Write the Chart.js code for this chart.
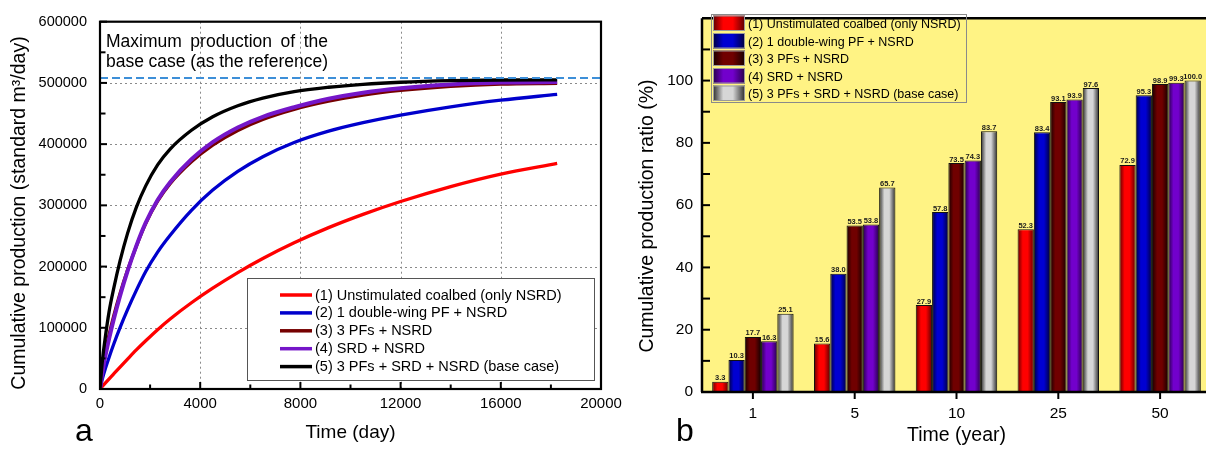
<!DOCTYPE html>
<html>
<head>
<meta charset="utf-8">
<script src="https://cdn.jsdelivr.net/npm/chart.js@4.4.1/dist/chart.umd.min.js"></script>
<style>
  html, body { margin: 0; padding: 0; background: #fff; overflow: hidden; width: 1206px; height: 449px; }
  #wrapA { position: absolute; left: 0; top: 0; width: 630px; height: 449px; }
  #wrapB { position: absolute; left: 620px; top: 0; width: 600px; height: 449px; }
  canvas { display: block; }
</style>
</head>
<body>
<div id="wrapA"><canvas id="chartA" width="630" height="449"></canvas></div>
<div id="wrapB"><canvas id="chartB" width="600" height="449"></canvas></div>
<script>
const FONT = '"Liberation Sans", Arial, Helvetica, sans-serif';

// ---- Panel (a): cumulative production (standard m3/day) over time (days) ----
const timeDays = [0, 100, 200, 365, 550, 800, 1100, 1450, 1825, 2300, 2800, 3650, 4500, 5500, 6500, 7750, 9125, 10500, 12000, 14000, 16000, 18250];
const prodUnstimulated = [0, 4700, 9300, 16700, 24900, 35900, 48900, 63800, 78800, 96900, 114400, 140900, 164700, 190200, 213200, 238800, 263600, 285300, 306300, 330700, 351100, 368600];
const prodOneWingPF = [0, 17500, 31500, 52000, 73500, 100200, 129600, 161100, 191900, 223700, 251200, 291900, 325000, 355500, 379500, 402700, 421200, 435000, 447400, 461000, 471800, 481300];
const prodThreePFs = [0, 33000, 58000, 89400, 119900, 156100, 194200, 233100, 270200, 306800, 335500, 371200, 398400, 422400, 440400, 456900, 470200, 480200, 487700, 494300, 498100, 499400];
const prodSRD = [0, 28000, 51000, 82300, 113800, 152000, 192500, 233800, 271700, 308800, 337800, 375200, 403200, 427200, 444700, 460300, 474200, 484100, 491300, 497300, 500500, 501500];
const prodBaseCase = [0, 48000, 81000, 126800, 164700, 209200, 254200, 296600, 331800, 366000, 392000, 422700, 444800, 462800, 475300, 485900, 492900, 497700, 501100, 503700, 504800, 505000];
const referenceMax = 508000;

const seriesLabels = [
  '(1) Unstimulated coalbed (only NSRD)',
  '(2) 1 double-wing PF + NSRD',
  '(3) 3 PFs + NSRD',
  '(4) SRD + NSRD',
  '(5) 3 PFs + SRD + NSRD (base case)'
];
const lineColors = ['#ff0000', '#0000cc', '#760000', '#7516c8', '#000000'];

// ---- Panel (b): cumulative production ratio (%) per year ----
const yearLabels = ['1', '5', '10', '25', '50'];
const ratioUnstimulated = [3.3, 15.6, 27.9, 52.3, 72.9];
const ratioOneWingPF = [10.3, 38.0, 57.8, 83.4, 95.3];
const ratioThreePFs = [17.7, 53.5, 73.5, 93.1, 98.9];
const ratioSRD = [16.3, 53.8, 74.3, 93.9, 99.3];
const ratioBaseCase = [25.1, 65.7, 83.7, 97.6, 100.0];

// cylinder shading for the bars: [edge, centre]
const barShades = [
  ['#5c0000', '#ff0000'],
  ['#00003c', '#0000d2'],
  ['#160000', '#700000'],
  ['#260048', '#7200cc'],
  ['#2c2c2c', '#d6d6d6']
];

function pts(values) { return timeDays.map((t, i) => ({ x: t, y: values[i] })); }

function line(ctx, x1, y1, x2, y2) {
  ctx.beginPath(); ctx.moveTo(x1, y1); ctx.lineTo(x2, y2); ctx.stroke();
}

function justify(ctx, text, x0, x1, y) {
  const words = text.split(' ');
  const widths = words.map(w => ctx.measureText(w).width);
  const total = widths.reduce((s, w) => s + w, 0);
  const gap = (x1 - x0 - total) / (words.length - 1);
  let x = x0;
  words.forEach((w, i) => { ctx.fillText(w, x, y); x += widths[i] + gap; });
}

function shadeGradient(ctx, left, width, shade) {
  const g = ctx.createLinearGradient(left, 0, left + width, 0);
  g.addColorStop(0, shade[0]);
  g.addColorStop(0.32, shade[1]);
  g.addColorStop(0.62, shade[1]);
  g.addColorStop(1, shade[0]);
  return g;
}

// ---------- Panel (a) decorations ----------
const panelA = {
  id: 'panelA',
  beforeDatasetsDraw(chart) {
    const { ctx, chartArea: a, scales: { x, y } } = chart;
    ctx.save();
    ctx.strokeStyle = '#8a8a8a';
    ctx.lineWidth = 1;
    ctx.setLineDash([2, 3]);
    for (let v = 4000; v < 20000; v += 4000) {
      const px = Math.round(x.getPixelForValue(v)) + 0.5;
      line(ctx, px, a.top, px, a.bottom);
    }
    for (let v = 100000; v < 600000; v += 100000) {
      const py = Math.round(y.getPixelForValue(v)) + 0.5;
      line(ctx, a.left, py, a.right, py);
    }
    ctx.restore();
  },
  afterDatasetsDraw(chart) {
    const { ctx, chartArea: a, scales: { x, y } } = chart;
    ctx.save();
    // frame
    ctx.strokeStyle = '#000';
    ctx.lineWidth = 2.2;
    ctx.strokeRect(a.left, a.top, a.right - a.left, a.bottom - a.top);
    // inward ticks
    ctx.lineWidth = 2;
    for (let v = 0; v <= 20000; v += 2000) {
      const px = x.getPixelForValue(v);
      line(ctx, px, a.bottom, px, a.bottom - (v % 4000 === 0 ? 7 : 4.5));
    }
    for (let v = 0; v <= 600000; v += 50000) {
      const py = y.getPixelForValue(v);
      line(ctx, a.left, py, a.left + (v % 100000 === 0 ? 7 : 5.5), py);
    }

    // reference note
    ctx.fillStyle = '#000';
    ctx.font = '17.5px ' + FONT;
    ctx.textBaseline = 'alphabetic';
    ctx.textAlign = 'left';
    justify(ctx, 'Maximum production of the', a.left + 6, 328, 47);
    justify(ctx, 'base case (as the reference)', a.left + 6, 328, 67);

    // legend
    const lx = 247, ly = 278, lw = 347, lh = 102;
    ctx.fillStyle = '#fff';
    ctx.fillRect(lx, ly, lw, lh);
    ctx.strokeStyle = '#555';
    ctx.lineWidth = 1;
    ctx.strokeRect(lx + 0.5, ly + 0.5, lw, lh);
    ctx.font = '14.5px ' + FONT;
    ctx.textBaseline = 'middle';
    seriesLabels.forEach((label, i) => {
      const cy = 295 + i * 17.9;
      ctx.strokeStyle = lineColors[i];
      ctx.lineWidth = 3.5;
      line(ctx, 280, cy, 312, cy);
      ctx.fillStyle = '#000';
      ctx.fillText(label, 315, cy + 0.5);
    });

    // axis titles and panel letter
    ctx.fillStyle = '#000';
    ctx.textAlign = 'center';
    ctx.textBaseline = 'middle';
    ctx.font = '19px ' + FONT;
    ctx.fillText('Time (day)', (a.left + a.right) / 2, 433);
    ctx.save();
    ctx.translate(20, 213);
    ctx.rotate(-Math.PI / 2);
    ctx.font = '19.5px ' + FONT;
    ctx.fillText('Cumulative production (standard m³/day)', 0, 0);
    ctx.restore();
    ctx.textAlign = 'left';
    ctx.textBaseline = 'alphabetic';
    ctx.font = '32px ' + FONT;
    ctx.fillText('a', 75, 441);
    ctx.restore();
  }
};

const lineDatasets = [prodUnstimulated, prodOneWingPF, prodThreePFs, prodSRD, prodBaseCase].map((vals, i) => ({
  label: seriesLabels[i],
  data: pts(vals),
  borderColor: lineColors[i],
  borderWidth: i === 3 ? 4 : 3.3,
  order: 5 - i
}));
lineDatasets.push({
  label: 'Maximum production of the base case',
  data: [{ x: 0, y: referenceMax }, { x: 20000, y: referenceMax }],
  borderColor: '#3d8fd8',
  borderWidth: 2.2,
  borderDash: [8, 4],
  order: 0
});

new Chart(document.getElementById('chartA'), {
  type: 'line',
  data: { datasets: lineDatasets },
  options: {
    responsive: false,
    animation: false,
    layout: { padding: { top: 15, right: 29, left: 0, bottom: 0 } },
    plugins: { legend: { display: false }, tooltip: { enabled: false } },
    elements: { point: { radius: 0 }, line: { cubicInterpolationMode: 'monotone', fill: false } },
    scales: {
      x: {
        type: 'linear', min: 0, max: 20000,
        ticks: { stepSize: 4000, padding: 6, color: '#000', font: { family: FONT, size: 15 }, maxRotation: 0, callback: v => String(v) },
        grid: { display: false, drawTicks: false },
        border: { display: false },
        afterFit(s) { s.height = 60; }
      },
      y: {
        type: 'linear', min: 0, max: 600000,
        ticks: { stepSize: 100000, padding: 13, color: '#000', font: { family: FONT, size: 14.5 }, callback: v => String(v) },
        grid: { display: false, drawTicks: false },
        border: { display: false },
        afterFit(s) { s.width = 100; }
      }
    }
  },
  plugins: [panelA]
});

// ---------- Panel (b) ----------
function barFill(i) {
  return function (c) {
    if (c.type !== 'data') return barShades[i][1];
    const xs = c.chart.scales.x;
    if (!xs || xs.right === undefined) return barShades[i][1];
    const cat = (xs.right - xs.left) / yearLabels.length;
    const bw = cat * 0.8 / 5;
    const left = xs.getPixelForValue(c.dataIndex) - cat * 0.4 + i * bw;
    return shadeGradient(c.chart.ctx, left, bw, barShades[i]);
  };
}

const panelB = {
  id: 'panelB',
  beforeDatasetsDraw(chart) {
    const { ctx, chartArea: a } = chart;
    ctx.save();
    ctx.fillStyle = '#fff384';
    ctx.fillRect(a.left, a.top, a.right - a.left, a.bottom - a.top);
    ctx.restore();
  },
  afterDatasetsDraw(chart) {
    const { ctx, chartArea: a, scales: { x, y } } = chart;
    ctx.save();
    // value labels
    ctx.fillStyle = '#1a1a1a';
    ctx.font = 'bold 7.5px ' + FONT;
    ctx.textAlign = 'center';
    ctx.textBaseline = 'alphabetic';
    chart.data.datasets.forEach((ds, di) => {
      chart.getDatasetMeta(di).data.forEach((el, i) => {
        ctx.fillText(ds.data[i].toFixed(1), el.x, el.y - 1.5);
      });
    });
    // axes
    ctx.strokeStyle = '#000';
    ctx.lineWidth = 2.5;
    line(ctx, a.left, a.top, a.right, a.top);
    line(ctx, a.left, a.top, a.left, a.bottom);
    line(ctx, a.left - 1, a.bottom, a.right, a.bottom);
    ctx.lineWidth = 2;
    for (let v = 0; v <= 110; v += 10) {
      const py = y.getPixelForValue(v);
      line(ctx, a.left, py, a.left + 8, py);
    }
    yearLabels.forEach((_, i) => {
      const px = x.getPixelForValue(i);
      line(ctx, px, a.bottom, px, a.bottom + 7);
    });

    // legend
    const names = chart.data.datasets.map(d => d.label);
    ctx.strokeStyle = '#8a8a8a';
    ctx.lineWidth = 1;
    ctx.strokeRect(711.5 - 620, 14.5, 255, 88);
    ctx.font = '12.5px ' + FONT;
    ctx.textAlign = 'left';
    ctx.textBaseline = 'middle';
    names.forEach((name, i) => {
      const top = 15.5 + i * 17.5;
      const sx = 713 - 620, sw = 32, sh = 15.5;
      ctx.fillStyle = shadeGradient(ctx, sx, sw, barShades[i]);
      ctx.fillRect(sx, top, sw, sh);
      ctx.strokeStyle = '#9a9a9a';
      ctx.strokeRect(sx + 0.5, top + 0.5, sw - 1, sh - 1);
      ctx.fillStyle = '#000';
      ctx.fillText(name, 748 - 620, top + 9.5);
    });

    // titles and panel letter
    ctx.fillStyle = '#000';
    ctx.textAlign = 'center';
    ctx.textBaseline = 'middle';
    ctx.font = '19.5px ' + FONT;
    ctx.fillText('Time (year)', (a.left + a.right) / 2, 436);
    ctx.save();
    ctx.translate(28, 216);
    ctx.rotate(-Math.PI / 2);
    ctx.fillText('Cumulative production ratio (%)', 0, 0);
    ctx.restore();
    ctx.textAlign = 'left';
    ctx.textBaseline = 'alphabetic';
    ctx.font = '32px ' + FONT;
    ctx.fillText('b', 56, 441);
    ctx.restore();
  }
};

const ratioSeries = [ratioUnstimulated, ratioOneWingPF, ratioThreePFs, ratioSRD, ratioBaseCase];

new Chart(document.getElementById('chartB'), {
  type: 'bar',
  data: {
    labels: yearLabels,
    datasets: ratioSeries.map((vals, i) => ({
      label: seriesLabels[i],
      data: vals,
      backgroundColor: barFill(i),
      borderColor: '#111',
      borderWidth: 1,
      barPercentage: 1,
      categoryPercentage: 0.8
    }))
  },
  options: {
    responsive: false,
    animation: false,
    layout: { padding: { top: 12, right: 9, left: 0, bottom: 0 } },
    plugins: { legend: { display: false }, tooltip: { enabled: false } },
    scales: {
      x: {
        type: 'category',
        ticks: { padding: 12, color: '#000', font: { family: FONT, size: 15.5 }, maxRotation: 0 },
        grid: { display: false, drawTicks: false },
        border: { display: false },
        afterFit(s) { s.height = 57; }
      },
      y: {
        type: 'linear', min: 0, max: 120,
        ticks: { stepSize: 20, padding: 9, color: '#000', font: { family: FONT, size: 15.5 }, callback: v => (v === 120 ? '' : String(v)) },
        grid: { display: false, drawTicks: false },
        border: { display: false },
        afterFit(s) { s.width = 82; }
      }
    }
  },
  plugins: [panelB]
});
</script>
</body>
</html>
